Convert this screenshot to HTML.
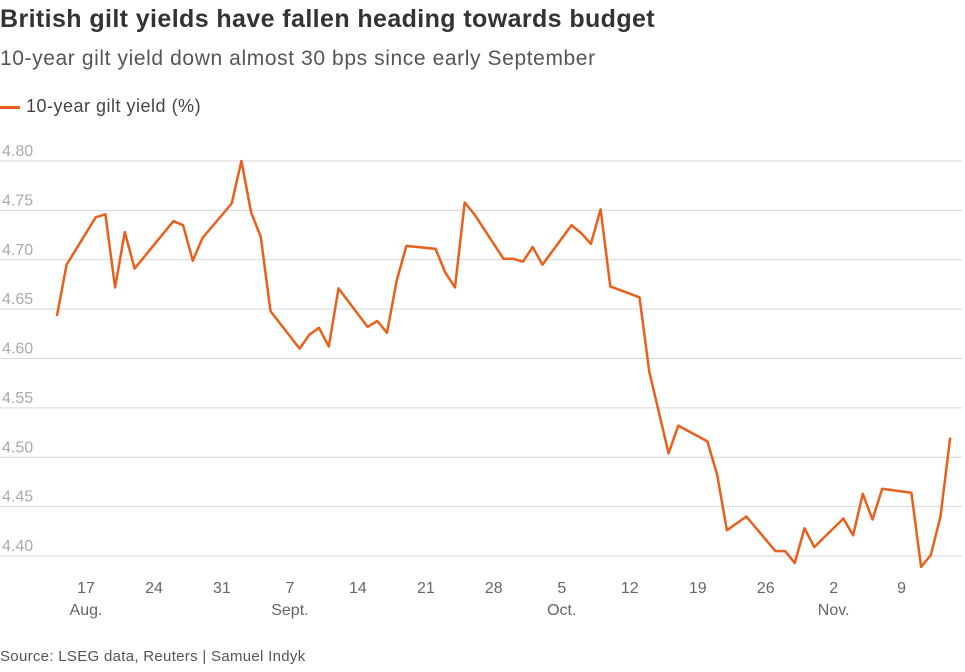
<!DOCTYPE html>
<html><head><meta charset="utf-8"><style>
body{margin:0;background:#fff;font-family:"Liberation Sans",sans-serif;}
#wrap{position:relative;width:965px;height:672px;overflow:hidden;}
.t{position:absolute;white-space:nowrap;}
</style></head><body>
<div id="wrap">
<div class="t" style="left:0;top:5px;font-size:25px;font-weight:bold;color:#333;letter-spacing:0.4px;">British gilt yields have fallen heading towards budget</div>
<div class="t" style="left:0;top:47px;font-size:21px;color:#555;letter-spacing:0.6px;">10-year gilt yield down almost 30 bps since early September</div>
<div class="t" style="left:0;top:96px;font-size:18px;color:#444;letter-spacing:0.5px;"><span style="display:inline-block;width:20px;height:3px;background:#e8601c;vertical-align:middle;margin-right:6px;"></span>10-year gilt yield (%)</div>
<svg id="svg" width="965" height="672" style="position:absolute;left:0;top:0"></svg>
<div class="t" style="left:0;top:648px;font-size:15px;color:#555;letter-spacing:0.3px;">Source: LSEG data, Reuters | Samuel Indyk</div>
</div>
<script>
const days=[-3,-2,1,2,3,4,5,9,10,11,12,15,16,17,18,19,22,23,24,25,26,29,30,31,32,33,36,37,38,39,40,43,44,45,46,47,50,51,52,53,54,57,58,60,61,64,65,66,68,71,72,73,74,75,78,79,80,81,82,85,86,87,88,89];
const yields=[4.643,4.695,4.743,4.746,4.672,4.728,4.691,4.739,4.735,4.699,4.722,4.757,4.800,4.748,4.723,4.648,4.610,4.624,4.631,4.612,4.671,4.632,4.638,4.626,4.679,4.714,4.711,4.687,4.672,4.758,4.746,4.701,4.701,4.698,4.713,4.695,4.735,4.727,4.716,4.751,4.673,4.662,4.587,4.504,4.532,4.516,4.482,4.426,4.440,4.405,4.405,4.393,4.428,4.409,4.438,4.421,4.463,4.437,4.468,4.464,4.389,4.401,4.440,4.520];
const yTicks=[4.40,4.45,4.50,4.55,4.60,4.65,4.70,4.75,4.80];
const xTickDays=[0,7,14,21,28,35,42,49,56,63,70,77,84];
const xTickLabels=["17","24","31","7","14","21","28","5","12","19","26","2","9"];
const monthDays=[0,21,49,77];
const monthLabels=["Aug.","Sept.","Oct.","Nov."];
const NS="http://www.w3.org/2000/svg";
const svg=document.getElementById('svg');
const xs=d=>86+d*9.71;
const ys=v=>161+(4.80-v)/0.4*395;
function mk(tag,attrs,txt){const e=document.createElementNS(NS,tag);for(const k in attrs)e.setAttribute(k,attrs[k]);if(txt!==undefined)e.textContent=txt;svg.appendChild(e);return e;}
yTicks.forEach(v=>{
 const l=mk('line',{x1:0,x2:962,y1:ys(v),y2:ys(v),stroke:'#d6d6d6','stroke-width':1});
 
 
 const t=mk('text',{x:2,y:ys(v)-5,'font-size':16,fill:'#aaa','font-family':'Liberation Sans'},v.toFixed(2));
 
 
});
xTickDays.forEach((d,i)=>{
 const t=mk('text',{x:xs(d),y:593,'font-size':16,fill:'#666','text-anchor':'middle','font-family':'Liberation Sans'},xTickLabels[i]);
 
 
});
monthDays.forEach((d,i)=>{
 const t=mk('text',{x:xs(d),y:615,'font-size':16,fill:'#666','text-anchor':'middle','font-family':'Liberation Sans'},monthLabels[i]);
 
 
});
const pts=days.map((d,i)=>xs(d).toFixed(1)+','+ys(yields[i]).toFixed(1)).join(' ');
const pl=mk('polyline',{points:pts,fill:'none',stroke:'#e8601c','stroke-width':2.5,'stroke-linejoin':'round'});


</script>
</body></html>
